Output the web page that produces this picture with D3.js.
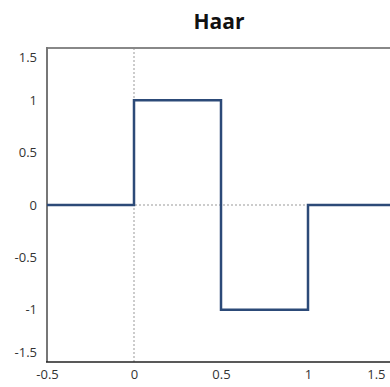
<!DOCTYPE html>
<html>
<head>
<meta charset="utf-8">
<script src="https://cdn.jsdelivr.net/npm/d3@7"></script>
<style>
  body { margin: 0; background: #fff; overflow: hidden; }
  svg { display: block; }
  text { font-family: "Open Sans", "Noto Sans", sans-serif; }
</style>
</head>
<body>
<div id="chart"></div>
<script>
// Haar wavelet, drawn as a step line
const stepX = [-0.5, 0, 0.5, 1, 1.5];
const stepY = [0, 1, -1, 0, 0];
const xTicks = [-0.5, 0, 0.5, 1, 1.5];
const yTicks = [-1.5, -1, -0.5, 0, 0.5, 1, 1.5];
const title = "Haar";

const W = 390, H = 387;
const MARGIN = { LEFT: 47, RIGHT: -5, TOP: 48, BOTTOM: 25 };

const svg = d3.select("#chart").append("svg")
    .attr("width", W)
    .attr("height", H);

const x = d3.scaleLinear().domain([-0.5, 1.5]).range([MARGIN.LEFT, W - MARGIN.RIGHT]);
const y = d3.scaleLinear().domain([-1.5, 1.5]).range([H - MARGIN.BOTTOM, MARGIN.TOP]);

svg.append("text")
    .attr("x", 219)
    .attr("y", 29)
    .attr("text-anchor", "middle")
    .attr("font-size", "21px")
    .attr("font-weight", "bold")
    .attr("fill", "#111")
    .text(title);

// dotted zero lines
svg.append("line")
    .attr("x1", x(0)).attr("x2", x(0))
    .attr("y1", y(1.5)).attr("y2", y(-1.5))
    .attr("stroke", "#999").attr("stroke-dasharray", "2,2");
svg.append("line")
    .attr("x1", x(-0.5)).attr("x2", W)
    .attr("y1", y(0)).attr("y2", y(0))
    .attr("stroke", "#999").attr("stroke-dasharray", "2,2");

// frame: top and left gray, bottom dark
svg.append("line")
    .attr("x1", x(-0.5)).attr("x2", W)
    .attr("y1", y(1.5)).attr("y2", y(1.5))
    .attr("stroke", "#888").attr("stroke-width", 2);
svg.append("line")
    .attr("x1", x(-0.5)).attr("x2", x(-0.5))
    .attr("y1", y(1.5) - 1).attr("y2", y(-1.5))
    .attr("stroke", "#777").attr("stroke-width", 2);

const line = d3.line()
    .x(d => x(d[0]))
    .y(d => y(d[1]))
    .curve(d3.curveStepAfter);

svg.append("path")
    .datum(stepX.map((v, i) => [v, stepY[i]]))
    .attr("fill", "none")
    .attr("stroke", "#2c4a78")
    .attr("stroke-width", 2.5)
    .attr("d", line);

const fmt = d => String(d);

const xAxis = svg.append("g")
    .attr("transform", `translate(0, ${y(-1.5)})`)
    .call(d3.axisBottom(x).tickValues(xTicks).tickSize(0).tickPadding(8).tickFormat(fmt));
xAxis.select(".domain").attr("stroke", "#222").attr("stroke-width", 1.6)
    .attr("d", `M${x(-0.5) - 1},0H${W}`);
xAxis.selectAll("text").attr("font-size", "13px").attr("fill", "#333")
    .attr("text-anchor", d => d === 1.5 ? "end" : "middle")
    .attr("dx", d => d === 1.5 ? "-10" : "0");

const yAxis = svg.append("g")
    .attr("transform", `translate(${x(-0.5)}, 0)`)
    .call(d3.axisLeft(y).tickValues(yTicks).tickSize(0).tickPadding(10).tickFormat(fmt));
yAxis.select(".domain").remove();
yAxis.selectAll("text").attr("font-size", "13px").attr("fill", "#333")
    .attr("dy", d => d === 1.5 ? "1.0em" : d === -1.5 ? "-0.4em" : "0.32em");
</script>
</body>
</html>
